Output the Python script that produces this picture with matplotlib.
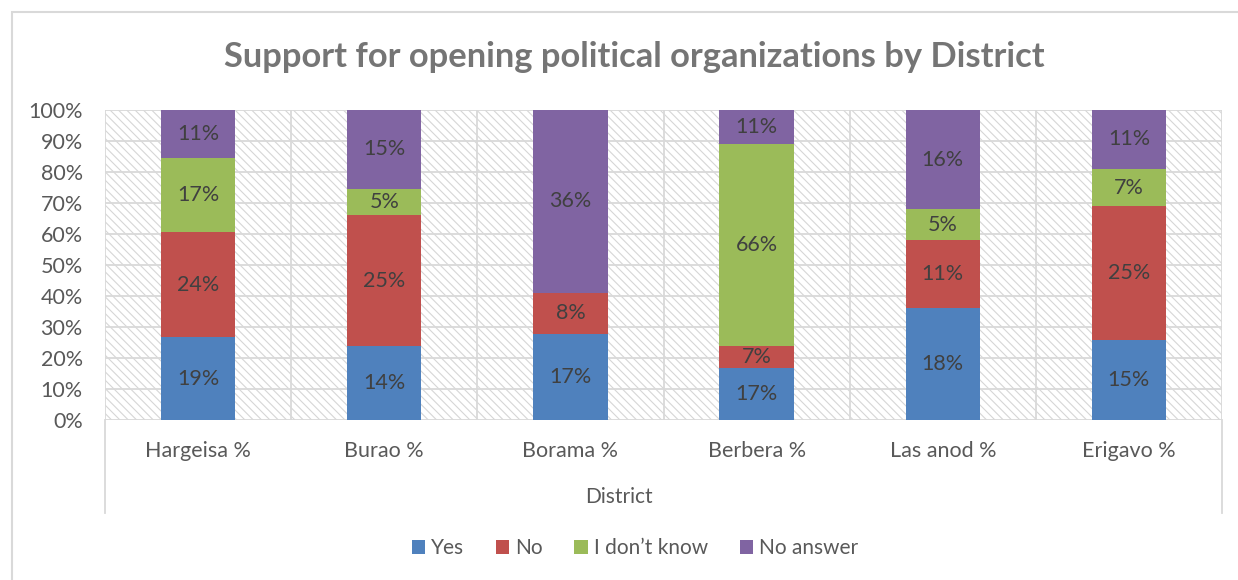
import matplotlib
matplotlib.use("Agg")
import matplotlib.pyplot as plt
from matplotlib.patches import Rectangle, Patch
from matplotlib.lines import Line2D
import numpy as np

districts = ["Hargeisa %", "Burao %", "Borama %", "Berbera %", "Las anod %", "Erigavo %"]
series_names = ["Yes", "No", "I don\u2019t know", "No answer"]
yes = [19, 14, 17, 17, 18, 15]
no = [24, 25, 8, 7, 11, 25]
dont_know = [17, 5, 0, 66, 5, 7]
no_answer = [11, 15, 36, 11, 16, 11]
colors = ["#4F81BD", "#C0504D", "#9BBB59", "#8064A2"]
y_ticks = [0, 10, 20, 30, 40, 50, 60, 70, 80, 90, 100]

plt.rcParams["font.family"] = ["Lato", "DejaVu Sans"]
plt.rcParams["hatch.linewidth"] = 0.8
plt.rcParams["hatch.color"] = "#d6d6d6"

W, H = 1238, 580
fig = plt.figure(figsize=(W / 100, H / 100), dpi=100)
fig.patch.set_facecolor("white")

ax = fig.add_axes([105 / W, 1 - 420 / H, (1222 - 105) / W, (420 - 110) / H])
ax.set_facecolor("white")

# hatched plot-area background
bg = Rectangle((0, 0), 1, 1, transform=ax.transAxes, facecolor="white",
               edgecolor="#d6d6d6", hatch="\\\\\\\\", linewidth=0, zorder=0)
ax.add_patch(bg)

data = np.array([yes, no, dont_know, no_answer], dtype=float)
totals = data.sum(axis=0)
shares = data / totals * 100

x = np.arange(len(districts))
bottom = np.zeros(len(districts))
for i, name in enumerate(series_names):
    ax.bar(x, shares[i], 0.4, bottom=bottom, color=colors[i], zorder=3, linewidth=0)
    for j in range(len(districts)):
        if data[i, j] > 0:
            ax.text(x[j], bottom[j] + shares[i, j] / 2, f"{int(data[i, j])}%",
                    ha="center", va="center", fontsize=15.5, color="#404040", zorder=4)
    bottom += shares[i]

ax.set_xlim(-0.5, len(districts) - 0.5)
ax.set_ylim(0, 100)
ax.set_yticks(y_ticks)
ax.set_yticklabels([f"{t}%" for t in y_ticks])
ax.set_xticks(x)
ax.set_xticklabels(districts)
ax.tick_params(axis="both", length=0, labelsize=15.5, labelcolor="#595959")
ax.tick_params(axis="x", pad=15)
ax.tick_params(axis="y", pad=16)

# grid: horizontal at ticks, vertical at category boundaries
for t in y_ticks:
    ax.axhline(t, color="#d9d9d9", lw=1.3, zorder=1)
for b in np.arange(-0.5, len(districts), 1.0):
    ax.axvline(b, color="#d9d9d9", lw=1.3, zorder=1)
for s in ax.spines.values():
    s.set_visible(False)

# outer category-axis edges extending below the plot
for xb in (-0.5, len(districts) - 0.5):
    ax.add_line(Line2D([xb, xb], [0, -30], color="#d9d9d9", lw=1.3, clip_on=False,
                       transform=ax.transData))

fig.text(0.5, 1 - 497 / H, "District", ha="center", va="center",
         fontsize=15, color="#595959")
fig.text(0.5125, 1 - 57 / H, "Support for opening political organizations by District",
         ha="center", va="center", fontsize=24.8, fontweight="bold", color="#757575")

handles = [Patch(facecolor=c, edgecolor="none") for c in colors]
fig.legend(handles, series_names, loc="center", bbox_to_anchor=(0.513, 1 - 548 / H),
           ncol=4, frameon=False, fontsize=15, labelcolor="#595959",
           handlelength=0.65, handleheight=0.65, handletextpad=0.3, columnspacing=1.5)

# chart border
fig.add_artist(Rectangle((11.5 / W, -0.05), 1.2, 1 - 12 / H + 0.05, transform=fig.transFigure,
                         facecolor="none", edgecolor="#d9d9d9", lw=1.5))

fig.savefig("out.png", dpi=100, facecolor="white")
